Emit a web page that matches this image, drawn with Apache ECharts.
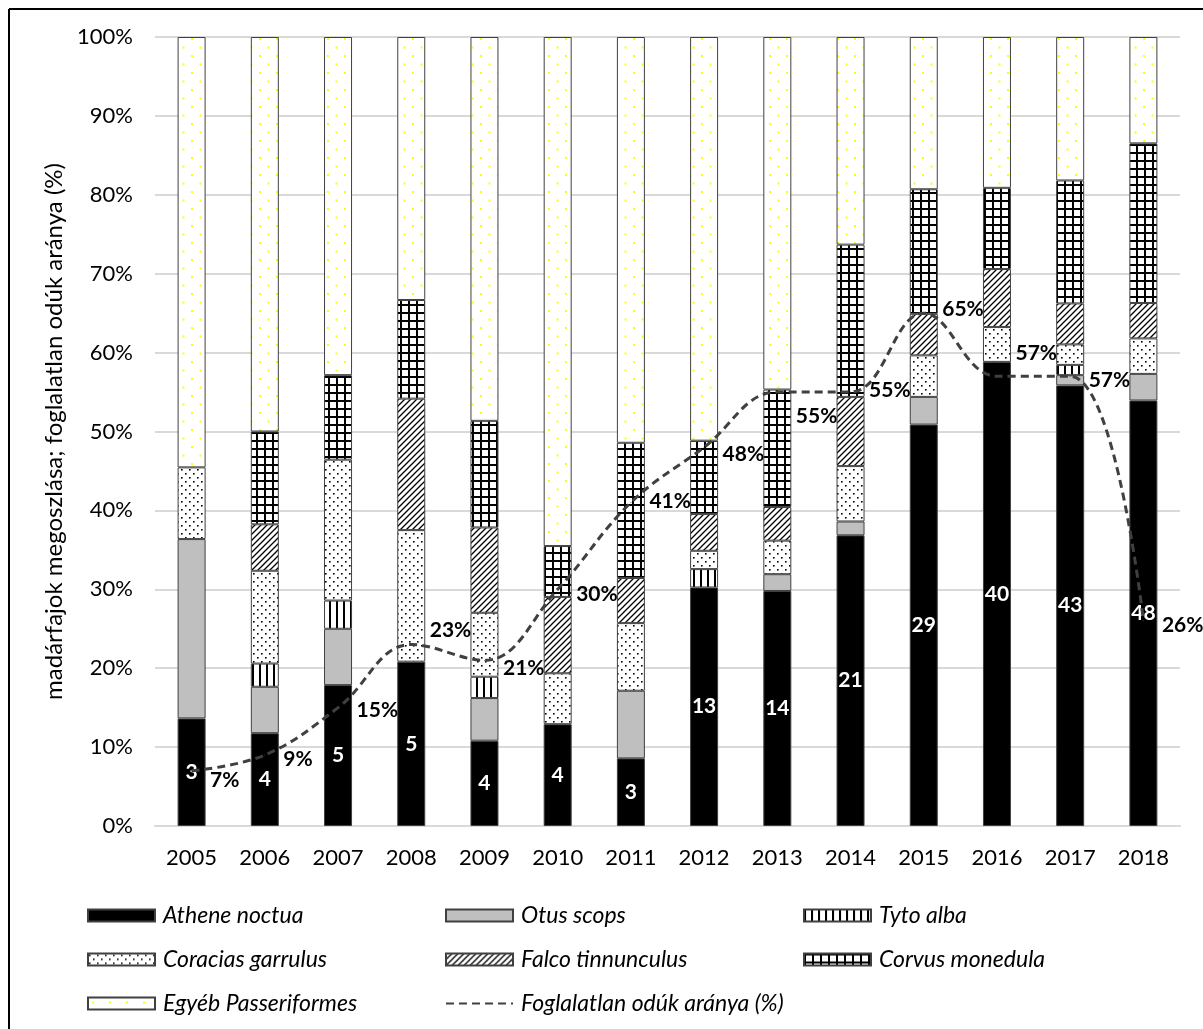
<!DOCTYPE html>
<html>
<head>
<meta charset="utf-8">
<script src="https://cdn.jsdelivr.net/npm/echarts@6.0.0/dist/echarts.min.js"></script>
<style>
  html, body { margin: 0; padding: 0; background: #fff; }
  #chart { width: 1203px; height: 1029px; }
</style>
</head>
<body>
<div id="chart"></div>
<script>
// years on the x axis
const years = ['2005', '2006', '2007', '2008', '2009', '2010', '2011', '2012', '2013', '2014', '2015', '2016', '2017', '2018']

// number of nests per species (bars are shown as share of the yearly total)
const athene = [3, 4, 5, 5, 4, 4, 3, 13, 14, 21, 29, 40, 43, 48]
const otus = [5, 2, 2, 0, 2, 0, 3, 0, 1, 1, 2, 0, 1, 3]
const tyto = [0, 1, 1, 0, 1, 0, 0, 1, 0, 0, 0, 0, 1, 0]
const coracias = [2, 4, 5, 4, 3, 2, 3, 1, 2, 4, 3, 3, 2, 4]
const falco = [0, 2, 0, 4, 4, 3, 2, 2, 2, 5, 3, 5, 4, 4]
const corvus = [0, 4, 3, 3, 5, 2, 6, 4, 7, 11, 9, 7, 12, 18]
const egyeb = [12, 17, 12, 8, 18, 20, 18, 22, 21, 15, 11, 13, 14, 12]

// share of unoccupied boxes (%)
const vacancy = [7, 9, 15, 23, 21, 30, 41, 48, 55, 55, 65, 57, 57, 26]

// y tick labels
const yTicks = ['0%', '10%', '20%', '30%', '40%', '50%', '60%', '70%', '80%', '90%', '100%']

// vertical nudge of the line labels (px), as placed in the original
const lineLabelNudge = [9, 4, 3, -14, 8, 5, -1, 7, 24, -2, -4, -23, 4, 4]

const FONT = 'Lato, "Open Sans", "Noto Sans", sans-serif'

const totals = years.map((y, i) =>
  athene[i] + otus[i] + tyto[i] + coracias[i] + falco[i] + corvus[i] + egyeb[i])
const share = arr => arr.map((v, i) => v === 0 ? null : v / totals[i] * 100)

// pattern fills (canvas tiles)
function tile (w, h, draw) {
  const c = document.createElement('canvas')
  c.width = w
  c.height = h
  const ctx = c.getContext('2d')
  ctx.fillStyle = '#fff'
  ctx.fillRect(0, 0, w, h)
  draw(ctx)
  return { image: c, repeat: 'repeat' }
}
const pVertical = tile(7, 7, ctx => {
  ctx.fillStyle = '#000'
  ctx.fillRect(0, 0, 2, 7)
})
const pGrid = tile(8, 8, ctx => {
  ctx.fillStyle = '#000'
  ctx.fillRect(0, 0, 2, 8)
  ctx.fillRect(0, 0, 8, 2)
})
const pDots = tile(8, 8, ctx => {
  ctx.fillStyle = '#000'
  ctx.fillRect(1, 1, 1.6, 1.6)
  ctx.fillRect(5, 5, 1.6, 1.6)
})
const pDiag = tile(6, 6, ctx => {
  ctx.strokeStyle = '#000'
  ctx.lineWidth = 1.3
  ctx.beginPath()
  ctx.moveTo(-1, 7); ctx.lineTo(7, -1)
  ctx.moveTo(-1, 1); ctx.lineTo(1, -1)
  ctx.moveTo(5, 7); ctx.lineTo(7, 5)
  ctx.stroke()
})
const pYellow = tile(17, 17, ctx => {
  ctx.fillStyle = '#ffff00'
  ctx.fillRect(4, 4, 2, 2)
  ctx.fillRect(12.5, 12.5, 2, 2)
})

const chart = echarts.init(document.getElementById('chart'))

function barSeries (name, arr, color, extra) {
  return Object.assign({
    name: name,
    type: 'bar',
    stack: 'total',
    barWidth: 28,
    data: share(arr),
    itemStyle: { color: color, borderColor: '#404040', borderWidth: 1 },
    emphasis: { disabled: true }
  }, extra || {})
}

const legendText = { fontFamily: FONT, fontStyle: 'italic', fontSize: 23, color: '#000', padding: [0, 0, 0, 3] }
function legendCol (left, names) {
  return {
    orient: 'vertical',
    left: left,
    top: 899,
    itemWidth: 67,
    itemHeight: 12,
    itemGap: 21,
    selectedMode: false,
    textStyle: legendText,
    data: names.map(n => n === 'Foglalatlan odúk aránya (%)'
      ? { name: n, itemStyle: { opacity: 0 } }
      : { name: n, icon: 'rect' })
  }
}

const option = {
  animation: false,
  backgroundColor: '#fff',
  textStyle: { fontFamily: FONT },
  grid: { left: 155, right: 23, top: 37, bottom: 203 },
  legend: [
    legendCol(82, ['Athene noctua', 'Coracias garrulus', 'Egyéb Passeriformes']),
    legendCol(440, ['Otus scops', 'Falco tinnunculus', 'Foglalatlan odúk aránya (%)']),
    legendCol(798, ['Tyto alba', 'Corvus monedula'])
  ],
  xAxis: {
    type: 'category',
    data: years,
    axisTick: { show: false },
    axisLine: { lineStyle: { color: '#d9d9d9', width: 2 } },
    axisLabel: { fontFamily: FONT, fontSize: 22, color: '#000', margin: 21 }
  },
  yAxis: {
    type: 'value',
    min: 0,
    max: 100,
    interval: 10,
    name: 'madárfajok megoszlása; foglalatlan odúk aránya (%)',
    nameLocation: 'middle',
    nameGap: 88,
    nameTextStyle: { fontFamily: FONT, fontSize: 24, color: '#000' },
    axisLine: { show: false },
    axisTick: { show: false },
    splitLine: { lineStyle: { color: '#d9d9d9', width: 2 } },
    axisLabel: {
      fontFamily: FONT,
      fontSize: 22,
      color: '#000',
      margin: 22,
      formatter: (v) => yTicks[Math.round(v / 10)]
    }
  },
  graphic: [
    { type: 'line', shape: { x1: 9, y1: 9, x2: 9, y2: 1029 }, style: { stroke: '#000', lineWidth: 2 } },
    { type: 'line', shape: { x1: 9, y1: 9, x2: 1203, y2: 9 }, style: { stroke: '#000', lineWidth: 2 } }
  ],
  series: [
    barSeries('Athene noctua', athene, '#000', {
      label: {
        show: true,
        position: 'inside',
        color: '#fff',
        fontFamily: FONT,
        fontWeight: 'bold',
        fontSize: 21,
        formatter: p => athene[p.dataIndex]
      }
    }),
    barSeries('Otus scops', otus, '#bfbfbf'),
    barSeries('Tyto alba', tyto, pVertical),
    barSeries('Coracias garrulus', coracias, pDots),
    barSeries('Falco tinnunculus', falco, pDiag),
    barSeries('Corvus monedula', corvus, pGrid),
    barSeries('Egyéb Passeriformes', egyeb, pYellow),
    {
      name: 'Foglalatlan odúk aránya (%)',
      type: 'line',
      smooth: 0.4,
      symbol: 'circle',
      symbolSize: 1,
      z: 5,
      itemStyle: { color: '#404040' },
      lineStyle: { color: '#404040', width: 3, type: [8, 5] },
      emphasis: { disabled: true },
      label: {
        show: true,
        position: 'right',
        distance: 18,
        color: '#000',
        fontFamily: FONT,
        fontWeight: 'bold',
        fontSize: 21,
        formatter: '{c}%'
      },
      data: vacancy.map((v, i) => ({ value: v, label: { offset: [0, lineLabelNudge[i]] } }))
    }
  ]
}

chart.setOption(option)
</script>
</body>
</html>
